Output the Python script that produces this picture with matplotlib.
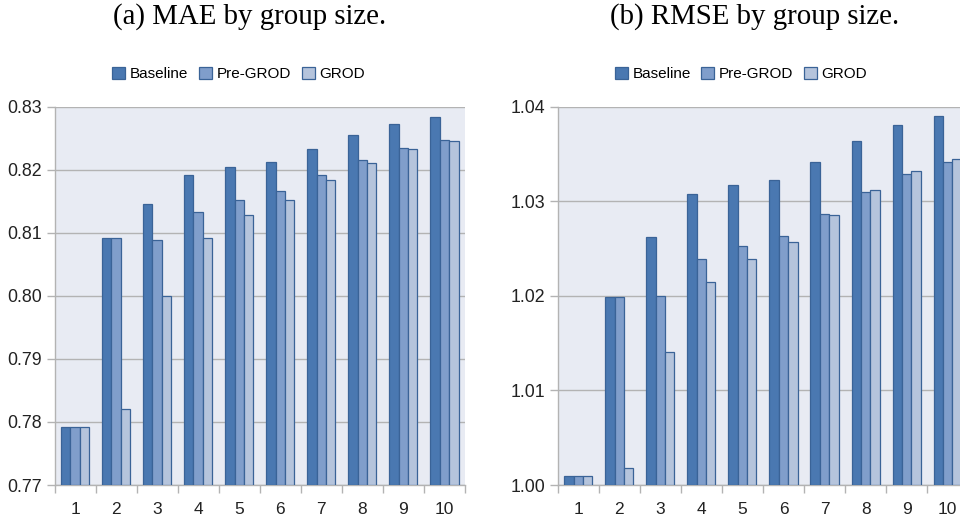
import numpy as np
import matplotlib
matplotlib.use('Agg')
import matplotlib.pyplot as plt
from matplotlib.patches import Patch

plt.rcParams['font.family'] = ['Liberation Sans', 'DejaVu Sans']

groups = ['1', '2', '3', '4', '5', '6', '7', '8', '9', '10']
series = ['Baseline', 'Pre-GROD', 'GROD']

mae_baseline = [0.7792, 0.8091, 0.8145, 0.8192, 0.8205, 0.8213, 0.8233, 0.8255, 0.8273, 0.8284]
mae_pregrod  = [0.7792, 0.8091, 0.8088, 0.8133, 0.8152, 0.8166, 0.8191, 0.8215, 0.8234, 0.8247]
mae_grod     = [0.7792, 0.7821, 0.8000, 0.8092, 0.8129, 0.8152, 0.8183, 0.8211, 0.8233, 0.8246]

rmse_baseline = [1.0009, 1.0199, 1.0262, 1.0308, 1.0317, 1.0323, 1.0342, 1.0364, 1.0381, 1.0390]
rmse_pregrod  = [1.0009, 1.0199, 1.0200, 1.0239, 1.0253, 1.0263, 1.0287, 1.0310, 1.0329, 1.0341]
rmse_grod     = [1.0009, 1.0018, 1.0141, 1.0215, 1.0239, 1.0257, 1.0286, 1.0312, 1.0332, 1.0345]

colors = ['#4a78b1', '#809ecb', '#b5c4dc']
edge = '#3a6397'
bg = '#e8ebf3'
gridc = '#b3b3b3'

W, H = 960, 517
fig = plt.figure(figsize=(W / 100, H / 100), dpi=100)


def panel(rect, data, ylim, yticks, yfmt):
    ax = fig.add_axes(rect)
    ax.set_facecolor(bg)
    x = np.arange(len(groups))
    bw = 0.228
    for i, vals in enumerate(data):
        ax.bar(x + (i - 1) * bw, np.array(vals) - ylim[0], bw, bottom=ylim[0],
               color=colors[i], edgecolor=edge, linewidth=0.9, zorder=3)
    ax.set_xlim(-0.5, len(groups) - 0.5)
    ax.set_ylim(*ylim)
    ax.set_yticks(yticks)
    ax.set_yticklabels([yfmt.format(v) for v in yticks])
    ax.set_xticks(x)
    ax.set_xticklabels(groups)
    ax.set_xticks(np.arange(-0.5, len(groups)), minor=True)
    ax.tick_params(axis='x', which='major', length=0, pad=12, labelsize=12.5, colors='#222222')
    ax.tick_params(axis='x', which='minor', length=6, width=1, color=gridc)
    ax.tick_params(axis='y', length=6, width=1, color=gridc, labelsize=12.8, labelcolor='#222222', pad=3)
    ax.grid(axis='y', color=gridc, linewidth=1, zorder=0)
    for s in ['top', 'right']:
        ax.spines[s].set_visible(False)
    for s in ['left', 'bottom']:
        ax.spines[s].set_color(gridc)
        ax.spines[s].set_linewidth(1)
    return ax


ax_h = 378.3 / H
ax_b = (H - 485) / H
panel([54.5 / W, ax_b, 410.5 / W, ax_h], [mae_baseline, mae_pregrod, mae_grod],
      (0.77, 0.83), [0.77, 0.78, 0.79, 0.80, 0.81, 0.82, 0.83], '{:.2f}')
panel([557.7 / W, ax_b, 410.5 / W, ax_h], [rmse_baseline, rmse_pregrod, rmse_grod],
      (1.00, 1.04), [1.00, 1.01, 1.02, 1.03, 1.04], '{:.2f}')

handles = [Patch(facecolor=c, edgecolor=edge, linewidth=0.9) for c in colors]
for cx in [238.5, 741]:
    fig.legend(handles, series, loc='center', bbox_to_anchor=(cx / W, 1 - 74 / H),
               ncol=3, frameon=False, fontsize=11, handlelength=0.85, handleheight=0.85,
               handletextpad=0.3, columnspacing=0.7, borderaxespad=0)

fig.text(249.5 / W, 1 - 17 / H, '(a) MAE by group size.', ha='center', va='center',
         family='Liberation Serif', fontsize=20.8)
fig.text(755 / W, 1 - 17 / H, '(b) RMSE by group size.', ha='center', va='center',
         family='Liberation Serif', fontsize=20.8)

fig.savefig('out.png', dpi=100)
